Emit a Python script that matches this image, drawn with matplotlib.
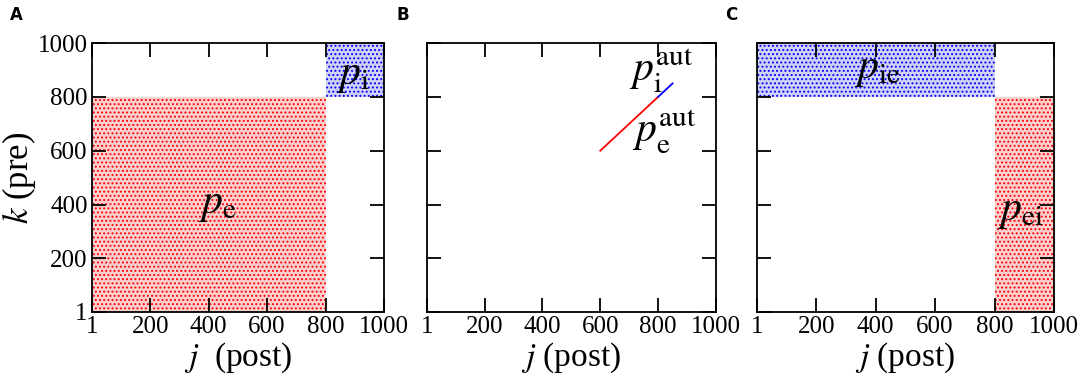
import matplotlib
matplotlib.use("Agg")
import matplotlib.pyplot as plt
from matplotlib.patches import Rectangle

plt.rcParams['font.family'] = ['Liberation Serif', 'DejaVu Serif']
plt.rcParams['mathtext.fontset'] = 'stix'
plt.rcParams['hatch.linewidth'] = 0.9

# axis ticks shared by all panels
ticks = [1, 200, 400, 600, 800, 1000]
tick_labels = ['1', '200', '400', '600', '800', '1000']

# connection blocks: (j_start, j_end, k_start, k_end, color, label, label_j, label_k)
blocks_a = [
    (1, 800, 1, 800, 'red', r'$p_{\mathrm{e}}$', 428, 400),
    (800, 1000, 800, 1000, 'blue', r'$p_{\mathrm{i}}$', 893, 880),
]
blocks_c = [
    (1, 800, 800, 1000, 'blue', r'$p_{\mathrm{ie}}$', 404, 900),
    (800, 1000, 1, 800, 'red', r'$p_{\mathrm{ei}}$', 888, 372),
]

# autapse diagonals in panel B
aut_e = [600, 800]
aut_i = [800, 850]
aut_labels = [(r'$p_{\mathrm{i}}^{\mathrm{aut}}$', 810, 895),
              (r'$p_{\mathrm{e}}^{\mathrm{aut}}$', 820, 668)]

fills = {'red': '#f9cfcf', 'blue': '#d2d2f5'}


def style_axes(ax, show_y, xlabel):
    ax.set_xlim(1, 1000)
    ax.set_ylim(1, 1000)
    ax.set_xticks(ticks)
    ax.set_xticklabels(tick_labels)
    ax.set_yticks(ticks)
    if show_y:
        ax.set_yticklabels(tick_labels)
        ax.set_ylabel(r'$k$ (pre)', fontsize=25, labelpad=0)
    else:
        ax.set_yticklabels([])
    ax.tick_params(direction='in', top=True, right=True, length=10, width=1.3,
                   labelsize=18, pad=3)
    for s in ax.spines.values():
        s.set_linewidth(1.3)
    ax.set_xlabel(xlabel, fontsize=24, labelpad=2)


def draw_blocks(ax, blocks):
    for j0, j1, k0, k1, c, lab, lj, lk in blocks:
        ax.add_patch(Rectangle((j0, k0), j1 - j0, k1 - k0, facecolor=fills[c],
                               edgecolor=c, hatch='....', linewidth=0, zorder=1))
        ax.text(lj, lk, lab, fontsize=30, ha='center', va='center', zorder=3)


fig = plt.figure(figsize=(10.84, 3.78), dpi=100)
W, H = 1084, 378
lefts = [92, 427, 757]
rights = [384, 716, 1054]
top, bottom = 43, 312
axes = []
for l, r in zip(lefts, rights):
    axes.append(fig.add_axes([l / W, 1 - bottom / H, (r - l) / W, (bottom - top) / H]))

ax_a, ax_b, ax_c = axes
draw_blocks(ax_a, blocks_a)
style_axes(ax_a, True, r'$j$  (post)')

ax_b.plot(aut_e, aut_e, color='red', lw=1.3)
ax_b.plot(aut_i, aut_i, color='blue', lw=1.3)
for lab, lj, lk in aut_labels:
    ax_b.text(lj, lk, lab, fontsize=30, ha='center', va='center')
style_axes(ax_b, False, r'$j$ (post)')

draw_blocks(ax_c, blocks_c)
style_axes(ax_c, False, r'$j$ (post)')

for lab, x in zip(['A', 'B', 'C'], [10, 397, 725]):
    fig.text(x / W, 1 - 15 / H, lab, fontsize=12, fontweight='bold',
             family='DejaVu Sans', va='center', ha='left')

fig.savefig('out.png', dpi=100)
